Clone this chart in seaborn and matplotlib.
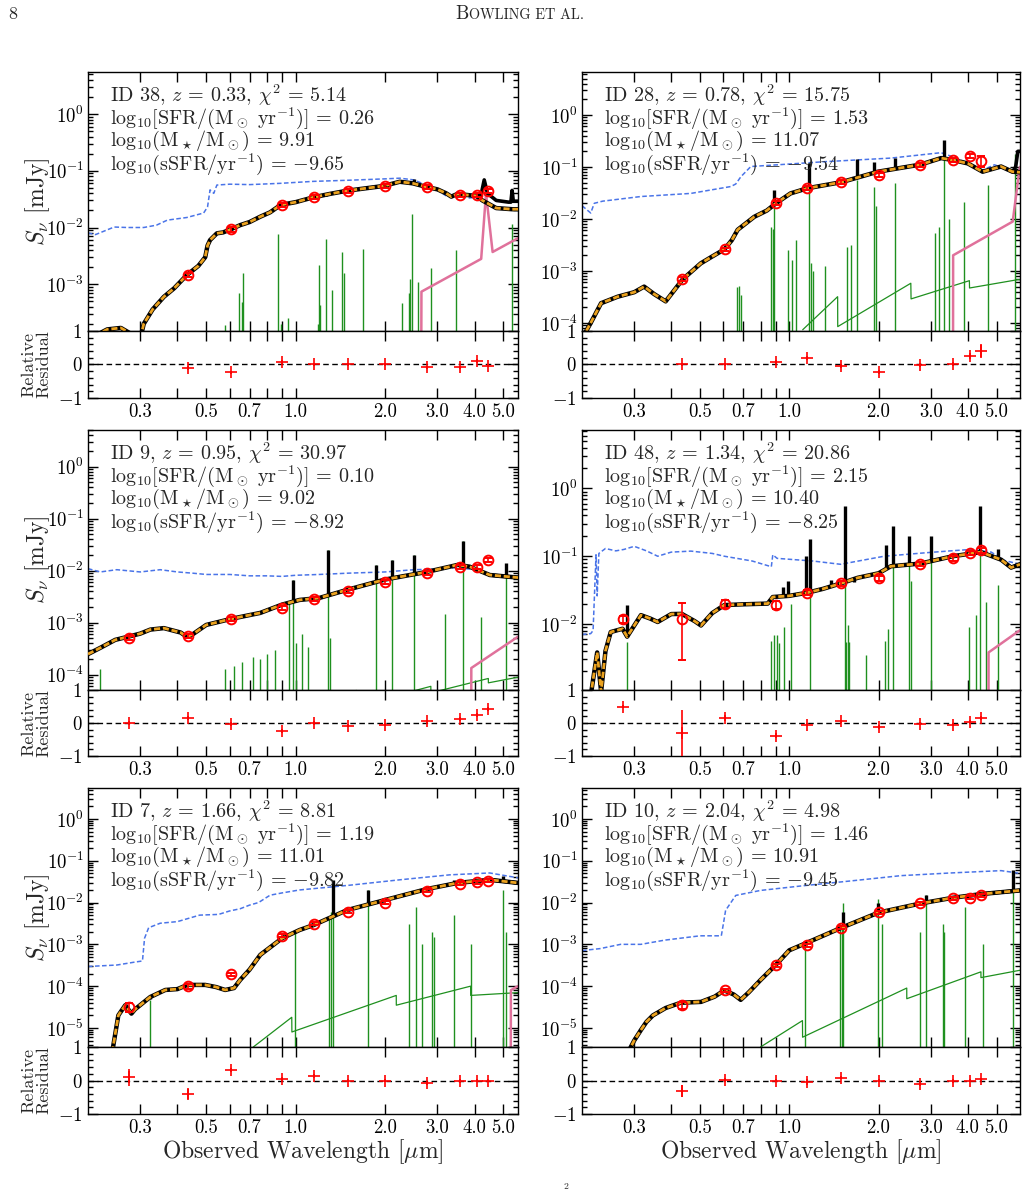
import numpy as np
import matplotlib
matplotlib.use("Agg")
import matplotlib.pyplot as plt
import seaborn as sns
from matplotlib.ticker import FixedLocator, FixedFormatter, LogLocator, MultipleLocator, NullLocator, NullFormatter

nan = np.nan

# HST + JWST filter pivot wavelengths [um]
filter_wl = [0.275, 0.435, 0.606, 0.90, 1.15, 1.50, 2.00, 2.77, 3.56, 4.08, 4.44]

# ---------------- ID 38 ----------------
id38_phot = [nan, 1.45e-3, 9.3e-3, 0.0248, 0.034, 0.0445, 0.054, 0.052, 0.037, 0.037, 0.0437]
id38_err = [nan, 1.2e-4, 8e-4, 2e-3, 2.7e-3, 3.5e-3, 4.3e-3, 4.2e-3, 3e-3, 3e-3, 3.5e-3]
id38_res = [nan, -0.10, -0.23, 0.06, 0.0, 0.0, 0.0, -0.08, -0.08, 0.10, -0.03]
id38_res_err = [nan, 0.05, 0.05, 0.06, 0.04, 0.04, 0.04, 0.05, 0.05, 0.06, 0.05]
id38_model_wl = [0.200, 0.215, 0.232, 0.258, 0.275, 0.290, 0.300, 0.308, 0.33, 0.36, 0.39, 0.43, 0.47, 0.496,
                 0.505, 0.515, 0.543, 0.57, 0.605, 0.65, 0.70, 0.76, 0.82, 0.89, 1.0, 1.146, 1.30, 1.49, 1.98,
                 2.24, 2.48, 2.75, 3.0, 3.21, 3.34, 3.5, 4.05, 4.25, 4.73, 5.35, 5.6]
id38_model_fx = [1.0e-4, 1.3e-4, 1.6e-4, 1.7e-4, 1.4e-4, 1.0e-4, 1.1e-4, 2.0e-4, 3.6e-4, 6.0e-4, 8.5e-4,
                 1.45e-3, 2.1e-3, 3.0e-3, 4.8e-3, 6.0e-3, 7.9e-3, 8.2e-3, 9.3e-3, 1.1e-2, 1.25e-2, 1.55e-2,
                 1.85e-2, 2.5e-2, 2.8e-2, 3.4e-2, 3.9e-2, 4.45e-2, 5.4e-2, 6.4e-2, 6.0e-2, 5.2e-2, 4.7e-2,
                 4.0e-2, 3.5e-2, 3.9e-2, 3.6e-2, 3.0e-2, 2.2e-2, 2.1e-2, 2.1e-2]
id38_tail_wl = [4.05, 4.2, 4.31, 4.42, 4.73, 5.2, 5.3, 5.35, 5.4, 5.6]
id38_tail_fx = [0.037, 0.036, 0.069, 0.040, 0.030, 0.028, 0.028, 0.045, 0.029, 0.029]
id38_spike_wl = [1.268, 2.494]
id38_spike_top = [0.036, 0.072]
id38_blue_wl = [0.200, 0.212, 0.245, 0.27, 0.308, 0.34, 0.37, 0.43, 0.49, 0.505, 0.515, 0.53, 0.543, 0.6,
                0.7, 0.886, 1.146, 1.5, 2.0, 2.24, 2.5, 2.75, 3.0, 3.21, 3.5, 3.8, 4.05, 4.4, 4.73, 5.6]
id38_blue_fx = [8e-3, 7.5e-3, 1.02e-2, 1.0e-2, 1.0e-2, 1.1e-2, 1.35e-2, 1.5e-2, 1.8e-2, 2.3e-2, 4.6e-2,
                4.0e-2, 5.6e-2, 5.8e-2, 5.7e-2, 6.0e-2, 6.5e-2, 6.8e-2, 7.2e-2, 7.4e-2, 6.9e-2, 5.6e-2,
                4.6e-2, 3.6e-2, 3.9e-2, 3.3e-2, 3.4e-2, 2.9e-2, 2.2e-2, 2.1e-2]
id38_green_wl = [0.576, 0.645, 0.66, 0.667, 0.872, 0.89, 0.944, 1.19, 1.2, 1.21, 1.26, 1.33, 1.43, 1.45,
                 1.69, 2.28, 2.4, 2.43, 2.47, 2.58, 2.86, 3.47, 5.34]
id38_green_top = [1.9e-4, 7.1e-4, 4.9e-4, 1.55e-3, 7.6e-3, 2.0e-4, 2.5e-4, 2.0e-4, 2.2e-3, 4.3e-4, 6.3e-3,
                  7.9e-4, 3.7e-3, 1.6e-3, 4.1e-3, 4.7e-4, 7.1e-4, 1.26e-3, 0.0174, 1.1e-3, 1.9e-3, 4.0e-3,
                  0.0115]
id38_neb_wl = [0.2, 0.3]
id38_neb_fx = [1e-7, 1e-7]
id38_dust_wl = [2.64, 2.65, 4.21, 4.37, 4.6, 5.6]
id38_dust_fx = [1e-6, 7.4e-4, 2.8e-3, 0.040, 3.7e-3, 6.5e-3]

# ---------------- ID 28 ----------------
id28_phot = [nan, 6.9e-4, 2.6e-3, 0.020, 0.039, 0.051, 0.070, 0.111, 0.136, 0.163, 0.132]
id28_err = [nan, 6e-5, 2.2e-4, 1.7e-3, 3.3e-3, 4.3e-3, 5.9e-3, 9.4e-3, 0.0115, 0.0138, 0.03]
id28_res = [nan, 0.0, 0.0, 0.08, 0.18, -0.05, -0.22, -0.02, 0.02, 0.25, 0.40]
id28_res_err = [nan, 0.05, 0.05, 0.06, 0.06, 0.05, 0.06, 0.05, 0.06, 0.08, 0.2]
id28_model_wl = [0.200, 0.214, 0.232, 0.264, 0.30, 0.324, 0.35, 0.383, 0.41, 0.437, 0.503, 0.55, 0.604, 0.64,
                 0.67, 0.762, 0.84, 0.902, 1.01, 1.153, 1.5, 1.99, 2.77, 3.25, 3.56, 4.0, 4.49, 5.18, 5.66, 6.0]
id28_model_fx = [5e-5, 1.0e-4, 2.4e-4, 3.2e-4, 3.9e-4, 5.0e-4, 3.6e-4, 2.6e-4, 4.3e-4, 6.9e-4, 1.4e-3,
                 1.9e-3, 2.6e-3, 3.9e-3, 6.2e-3, 1.1e-2, 1.45e-2, 2.0e-2, 3.1e-2, 3.9e-2, 5.1e-2, 8.1e-2,
                 0.111, 0.148, 0.136, 0.117, 0.081, 0.102, 0.081, 0.079]
id28_tail_wl = [5.66, 5.8, 5.9, 6.0]
id28_tail_fx = [0.081, 0.1, 0.2, 0.2]
id28_spike_wl = [0.891, 1.168, 1.697, 1.93, 2.28, 3.338]
id28_spike_top = [0.036, 0.118, 0.14, 0.126, 0.148, 0.33]
id28_blue_wl = [0.200, 0.214, 0.22, 0.235, 0.316, 0.466, 0.635, 0.66, 0.687, 0.742, 0.913, 1.31, 2.2,
                3.25, 3.7, 4.49, 4.92, 5.9, 6.0]
id28_blue_fx = [0.018, 0.013, 0.020, 0.022, 0.027, 0.031, 0.042, 0.047, 0.065, 0.102, 0.110, 0.126, 0.148,
                0.188, 0.145, 0.087, 0.110, 0.076, 0.076]
id28_green_wl = [0.665, 0.678, 0.69, 0.868, 0.882, 0.891, 0.99, 1.02, 1.05, 1.168, 1.18, 1.20, 1.32, 1.57,
                 1.61, 1.697, 1.93, 1.96, 2.28, 3.09, 3.20, 3.338, 3.45, 3.87, 4.67, 5.77]
id28_green_top = [5.0e-4, 5.2e-4, 3.5e-4, 7.1e-3, 6.3e-3, 0.0214, 2.5e-3, 1.6e-3, 4.0e-3, 0.117, 1.4e-3,
                  1.0e-3, 1.26e-3, 2.95e-3, 3.2e-3, 0.056, 0.042, 0.0178, 0.049, 5.4e-3, 7.1e-3, 0.20, 0.01,
                  0.0214, 0.045, 0.18]
id28_neb_wl = [1.11, 1.456, 1.457, 2.57, 2.575, 4.05, 4.055, 5.9, 6.0]
id28_neb_fx = [7.4e-5, 3.2e-4, 8.5e-5, 5.8e-4, 2.9e-4, 6.5e-4, 4.7e-4, 6.8e-4, 6.8e-4]
id28_dust_wl = [3.565, 3.57, 5.67, 5.97, 6.0]
id28_dust_fx = [1e-6, 2.0e-3, 8.9e-3, 0.087, 0.1]

# ---------------- ID 9 ----------------
id9_phot = [5.1e-4, 5.6e-4, 1.2e-3, 1.95e-3, 2.9e-3, 4.0e-3, 6.2e-3, 9.1e-3, 1.2e-2, 1.2e-2, 1.62e-2]
id9_err = [4.5e-5, 5e-5, 1e-4, 1.7e-4, 2.5e-4, 3.4e-4, 5.3e-4, 7.7e-4, 1e-3, 1e-3, 1.4e-3]
id9_res = [0.0, 0.15, -0.03, -0.25, 0.0, -0.08, -0.05, 0.05, 0.12, 0.25, 0.42]
id9_res_err = [0.06, 0.07, 0.05, 0.06, 0.05, 0.05, 0.05, 0.05, 0.05, 0.06, 0.06]
id9_model_wl = [0.200, 0.22, 0.247, 0.273, 0.30, 0.324, 0.36, 0.41, 0.43, 0.45, 0.5, 0.61, 0.76, 0.9, 1.03,
                1.2, 1.49, 2.0, 2.76, 3.51, 3.85, 4.5, 5.6]
id9_model_fx = [2.5e-4, 3.3e-4, 4.7e-4, 5.4e-4, 6.2e-4, 7.4e-4, 7.9e-4, 6.5e-4, 5.4e-4, 6.0e-4, 9.1e-4,
                1.2e-3, 1.55e-3, 2.24e-3, 2.75e-3, 3.0e-3, 4.3e-3, 6.8e-3, 9.5e-3, 1.3e-2, 1.2e-2, 8.3e-3,
                7.4e-3]
id9_tail_wl = [4.5, 5.6]
id9_tail_fx = [8.3e-3, 7.4e-3]
id9_spike_wl = [0.976, 1.28, 1.86, 2.11, 2.5, 3.66, 5.12]
id9_spike_top = [6.7e-3, 0.025, 0.013, 0.016, 0.02, 0.038, 0.014]
id9_blue_wl = [0.2, 0.22, 0.25, 0.3, 0.35, 0.4, 0.45, 0.5, 0.6, 0.7, 0.8, 0.9, 1.0, 1.2, 1.5, 2.0, 2.5, 3.0,
               3.5, 4.0, 4.5, 5.0, 5.6]
id9_blue_fx = [0.011, 0.0095, 0.0105, 0.0095, 0.0105, 0.0095, 0.009, 0.0085, 0.0085, 0.008, 0.008, 0.0078,
               0.0082, 0.0085, 0.009, 0.0095, 0.0105, 0.0108, 0.0115, 0.0105, 0.0085, 0.0080, 0.0075]
id9_green_wl = [0.22, 0.58, 0.62, 0.66, 0.72, 0.76, 0.8, 0.85, 0.948, 0.976, 1.0, 1.05, 1.1, 1.28, 1.3,
                1.86, 2.11, 2.5, 3.17, 3.66, 4.22, 5.12]
id9_green_top = [1.3e-4, 1.3e-4, 1.5e-4, 1.8e-4, 2.2e-4, 2.0e-4, 2.5e-4, 3e-4, 2.5e-3, 6.7e-3, 4e-4, 6e-4,
                 3.5e-4, 0.025, 5e-4, 0.013, 0.016, 0.02, 1.5e-3, 0.038, 1.3e-3, 0.0085]
id9_neb_wl = [1.2, 1.6, 1.601, 2.85, 2.851, 4.45, 4.451, 5.6]
id9_neb_fx = [3e-5, 5e-5, 2.5e-5, 6e-5, 4.5e-5, 8.5e-5, 7e-5, 9e-5]
id9_dust_wl = [3.895, 3.9, 5.6]
id9_dust_fx = [1e-6, 1.35e-4, 5.4e-4]

# ---------------- ID 48 ----------------
id48_phot = [0.0118, 0.0118, 0.020, 0.019, 0.029, 0.040, 0.047, 0.077, 0.094, 0.112, 0.123]
id48_err = [1.5e-3, 8.9e-3, 2.5e-3, 2.6e-3, 2.4e-3, 3.3e-3, 3.9e-3, 6.4e-3, 7.8e-3, 9.3e-3, 1.0e-2]
id48_res = [0.50, -0.30, 0.15, -0.38, -0.05, 0.05, -0.12, -0.02, -0.05, 0.03, 0.15]
id48_res_err = [0.06, 0.7, 0.08, 0.08, 0.05, 0.05, 0.05, 0.05, 0.05, 0.05, 0.06]
id48_model_wl = [0.20, 0.215, 0.225, 0.232, 0.24, 0.25, 0.274, 0.284, 0.316, 0.34, 0.36, 0.40, 0.434, 0.48,
                 0.504, 0.55, 0.604, 0.70, 0.846, 0.88, 1.0, 1.153, 1.3, 1.5, 1.70, 2.0, 2.2, 2.77, 3.56,
                 4.43, 5.18, 5.6, 6.0]
id48_model_fx = [5e-4, 1e-3, 3.8e-3, 1.0e-3, 4.0e-3, 7.6e-3, 8.5e-3, 6.5e-3, 1.35e-2, 1.2e-2, 1.07e-2,
                 1.4e-2, 1.41e-2, 1.1e-2, 9.5e-3, 1.45e-2, 1.9e-2, 1.95e-2, 2.0e-2, 2.5e-2, 2.6e-2, 2.9e-2,
                 3.3e-2, 4.0e-2, 4.8e-2, 5.6e-2, 7.1e-2, 7.8e-2, 1.0e-1, 1.15e-1, 8.9e-2, 6.8e-2, 7.6e-2]
id48_tail_wl = [5.6, 6.0]
id48_tail_fx = [6.8e-2, 7.6e-2]
id48_spike_wl = [0.284, 0.954, 0.99, 1.138, 1.172, 1.38, 1.536, 1.65, 2.12, 2.233, 2.54, 3.0, 4.39, 5.07]
id48_spike_top = [0.019, 0.035, 0.043, 0.1, 0.178, 0.045, 0.56, 0.042, 0.148, 0.28, 0.2, 0.2, 0.56, 0.13]
id48_blue_wl = [0.20, 0.214, 0.218, 0.223, 0.225, 0.228, 0.24, 0.26, 0.277, 0.30, 0.33, 0.36, 0.40, 0.466,
                0.55, 0.604, 0.75, 0.87, 0.88, 0.91, 1.2, 1.49, 2.09, 2.85, 3.5, 4.1, 4.8, 5.3, 6.0]
id48_blue_fx = [7e-3, 7.2e-3, 8e-3, 0.105, 0.026, 0.11, 0.13, 0.12, 0.126, 0.14, 0.12, 0.10, 0.115, 0.119,
                0.11, 0.10, 0.085, 0.07, 0.105, 0.093, 0.085, 0.076, 0.1, 0.112, 0.12, 0.126, 0.115, 0.087,
                0.076]
id48_green_wl = [0.284, 0.868, 0.89, 0.906, 0.925, 0.957, 1.013, 1.172, 1.536, 1.553, 1.574, 1.594, 1.814,
                 2.10, 2.147, 2.233, 2.54, 2.574, 3.0, 4.05, 4.26, 4.39, 4.6, 5.07]
id48_green_top = [5.4e-3, 5.7e-3, 6.8e-3, 6.8e-3, 5.2e-3, 9.1e-3, 0.02, 0.14, 0.53, 5.4e-3, 9.5e-3, 5.4e-3,
                  3.5e-3, 5.7e-3, 8.5e-3, 0.235, 0.079, 0.043, 0.112, 9.1e-3, 0.0135, 0.53, 0.021, 0.038]
id48_neb_wl = [0.2, 0.3]
id48_neb_fx = [1e-7, 1e-7]
id48_dust_wl = [4.695, 4.7, 6.0]
id48_dust_fx = [1e-6, 3.8e-3, 8.1e-3]

# ---------------- ID 7 ----------------
id7_phot = [3.2e-5, 1.0e-4, 1.9e-4, 1.6e-3, 3.1e-3, 6.0e-3, 1.0e-2, 1.9e-2, 2.8e-2, 3.1e-2, 3.3e-2]
id7_err = [8e-6, 1.5e-5, 1.8e-5, 1.3e-4, 2.6e-4, 5e-4, 8.5e-4, 1.6e-3, 2.4e-3, 2.6e-3, 2.8e-3]
id7_res = [0.10, -0.40, 0.30, 0.05, 0.12, 0.0, 0.0, -0.08, -0.02, 0.0, 0.0]
id7_res_err = [0.25, 0.15, 0.06, 0.06, 0.06, 0.04, 0.04, 0.05, 0.05, 0.05, 0.05]
id7_model_wl = [0.235, 0.242, 0.253, 0.267, 0.28, 0.288, 0.324, 0.364, 0.40, 0.432, 0.496, 0.54, 0.579, 0.62,
                0.65, 0.70, 0.76, 0.9, 1.03, 1.15, 1.49, 2.0, 2.76, 3.51, 4.5, 5.6]
id7_model_fx = [1e-6, 3e-6, 2e-5, 3.5e-5, 2.2e-5, 2.8e-5, 5.5e-5, 8.1e-5, 8.5e-5, 1.07e-4, 1.07e-4, 9.5e-5,
                8.1e-5, 9e-5, 1.4e-4, 2.5e-4, 5.6e-4, 1.4e-3, 2.2e-3, 2.9e-3, 6.6e-3, 1.15e-2, 2.1e-2,
                2.95e-2, 3.5e-2, 2.95e-2]
id7_tail_wl = [4.5, 5.6]
id7_tail_fx = [3.5e-2, 2.95e-2]
id7_spike_wl = [0.324, 1.332, 1.746, 2.536, 3.41, 4.99]
id7_spike_top = [5e-5, 0.035, 0.02, 0.018, 0.035, 0.044]
id7_blue_wl = [0.20, 0.25, 0.29, 0.305, 0.31, 0.32, 0.35, 0.4, 0.475, 0.55, 0.6, 0.65, 0.7, 0.75, 0.82, 0.9,
               1.03, 1.52, 2.24, 3.3, 4.5, 5.6]
id7_blue_fx = [2.95e-4, 3.2e-4, 3.8e-4, 4.0e-4, 1.4e-3, 2.5e-3, 3.2e-3, 3.5e-3, 5.0e-3, 5.2e-3, 6.3e-3,
               7.1e-3, 8.7e-3, 0.01, 0.015, 0.017, 0.02, 0.026, 0.035, 0.046, 0.051, 0.039]
id7_green_wl = [0.324, 0.991, 1.293, 1.319, 1.332, 1.746, 2.41, 2.536, 2.67, 2.88, 2.91, 3.41, 3.9, 4.99, 5.1]
id7_green_top = [4.7e-5, 2e-3, 4e-3, 6e-3, 0.03, 0.02, 3e-3, 8e-3, 1e-3, 2e-3, 1.5e-3, 5e-3, 1e-3, 0.02, 2e-3]
id7_neb_wl = [0.72, 0.97, 0.971, 2.18, 2.181, 3.88, 3.881, 5.6]
id7_neb_fx = [3.5e-6, 1.8e-5, 8e-6, 6e-5, 3.5e-5, 1.0e-4, 6e-5, 7e-5]
id7_dust_wl = [5.29, 5.3, 5.6]
id7_dust_fx = [1e-7, 8e-5, 1.0e-4]

# ---------------- ID 10 ----------------
id10_phot = [nan, 3.5e-5, 8e-5, 3.2e-4, 9.5e-4, 2.5e-3, 5.8e-3, 9.5e-3, 0.0126, 0.013, 0.0148]
id10_err = [nan, 6e-6, 6.5e-6, 2.7e-5, 8e-5, 2.1e-4, 4.8e-4, 8e-4, 1.05e-3, 1.1e-3, 1.25e-3]
id10_res = [nan, -0.30, 0.02, 0.0, -0.05, 0.08, 0.0, -0.10, -0.02, 0.0, 0.03]
id10_res_err = [nan, 0.18, 0.05, 0.05, 0.08, 0.05, 0.05, 0.05, 0.05, 0.05, 0.05]
id10_model_wl = [0.285, 0.30, 0.316, 0.33, 0.347, 0.383, 0.43, 0.504, 0.56, 0.604, 0.65, 0.686, 0.73, 0.8,
                 0.9, 1.0, 1.15, 1.5, 2.0, 2.77, 3.56, 4.46, 6.0]
id10_model_fx = [2.5e-6, 5e-6, 8.9e-6, 1.4e-5, 2.0e-5, 3.0e-5, 4.0e-5, 4.2e-5, 5.6e-5, 7.9e-5, 6.3e-5,
                 4.7e-5, 7.1e-5, 1.4e-4, 3.2e-4, 7.2e-4, 1.1e-3, 2.5e-3, 5.75e-3, 9.5e-3, 1.3e-2, 1.6e-2,
                 1.95e-2]
id10_tail_wl = [4.46, 6.0]
id10_tail_fx = [1.6e-2, 1.95e-2]
id10_spike_wl = [1.522, 1.995, 2.898, 3.9, 5.70]
id10_spike_top = [6e-3, 0.01, 0.015, 0.016, 0.06]
id10_blue_wl = [0.2, 0.23, 0.27, 0.316, 0.38, 0.5, 0.59, 0.6, 0.61, 0.66, 0.8, 1.1, 1.62, 2.38, 3.5, 5.18, 6.0]
id10_blue_fx = [7.1e-4, 7.9e-4, 1.0e-3, 1.0e-3, 1.26e-3, 1.6e-3, 1.6e-3, 3.2e-3, 6.5e-3, 0.0148, 0.0195,
                0.025, 0.033, 0.044, 0.051, 0.058, 0.05]
id10_green_wl = [1.133, 1.478, 1.507, 1.522, 1.995, 2.05, 2.76, 2.898, 3.29, 3.33, 3.9, 4.5, 5.70]
id10_green_top = [1e-3, 3e-3, 2.5e-3, 0.01, 0.012, 3e-3, 2e-3, 0.015, 3e-3, 2e-3, 8e-3, 1e-3, 0.03]
id10_neb_wl = [0.8, 1.108, 1.109, 2.49, 2.491, 4.43, 4.431, 6.0]
id10_neb_fx = [3.5e-6, 1.5e-5, 6e-6, 9e-5, 5e-5, 2.2e-4, 1.6e-4, 2.4e-4]
id10_dust_wl = [5.99, 6.0]
id10_dust_fx = [1e-7, 1e-7]

# text annotations
labels = [
    ("ID 38", "0.33", "5.14", "0.26", "9.91", "-9.65"),
    ("ID 28", "0.78", "15.75", "1.53", "11.07", "-9.54"),
    ("ID 9", "0.95", "30.97", "0.10", "9.02", "-8.92"),
    ("ID 48", "1.34", "20.86", "2.15", "10.40", "-8.25"),
    ("ID 7", "1.66", "8.81", "1.19", "11.01", "-9.82"),
    ("ID 10", "2.04", "4.98", "1.46", "10.91", "-9.45"),
]
ylims = [(1.5e-4, 5.5), (7e-5, 6.7), (5.1e-5, 5.1), (1.06e-3, 7.3), (3.5e-6, 5.5), (3.5e-6, 5.5)]

xtick_vals = [0.3, 0.4, 0.5, 0.6, 0.7, 0.8, 0.9, 1.0, 2.0, 3.0, 4.0, 5.0]
xtick_text = ["0.3", "", "0.5", "", "0.7", "", "", "1.0", "2.0", "3.0", "4.0", "5.0"]

sns.set_style("ticks")
plt.rcParams["font.family"] = ["serif"]
plt.rcParams["font.serif"] = ["cmr10", "DejaVu Serif"]
plt.rcParams["mathtext.fontset"] = "cm"
plt.rcParams["axes.formatter.use_mathtext"] = True
plt.rcParams["axes.unicode_minus"] = False

W, H = 1027, 1194
fig = plt.figure(figsize=(W / 100, H / 100), dpi=100)

col_x = [(88, 430, 0.2, 5.6), (582, 438, 0.2, 6.0)]
row_y = [(72, 331, 398), (430, 690, 756), (788, 1047, 1114)]

panels = [
    ("id38", 0, 0), ("id28", 0, 1), ("id9", 1, 0), ("id48", 1, 1), ("id7", 2, 0), ("id10", 2, 1),
]

c_orange = "#eba21f"
c_blue = "#4a74e8"
c_green = "#1f901f"
c_pink = "#e0719b"


def style_ticks(ax):
    ax.tick_params(which="both", direction="in", top=True, right=True, width=1.0, colors="k")
    ax.tick_params(which="major", length=7)
    ax.tick_params(which="minor", length=3.5)
    for s in ax.spines.values():
        s.set_linewidth(1.0)
        s.set_color("k")


def num(v):
    # numbers as math so the minus sign is a proper unary minus
    return "$%s$" % v


g = globals()
for i, (key, r, c) in enumerate(panels):
    x0, w, xmin, xmax = col_x[c]
    top, mid, bot = row_y[r]
    ax = fig.add_axes([x0 / W, 1 - mid / H, w / W, (mid - top) / H])
    axr = fig.add_axes([x0 / W, 1 - bot / H, w / W, (bot - mid) / H])

    mwl = np.array(g[key + "_model_wl"])
    mfx = np.array(g[key + "_model_fx"])

    # unattenuated stellar
    sns.lineplot(x=g[key + "_blue_wl"], y=g[key + "_blue_fx"], ax=ax, color=c_blue, lw=1.1,
                 linestyle="--", estimator=None, sort=False, zorder=2)
    ax.lines[-1].set_dashes([3.0, 1.6])
    # nebular
    ax.vlines(g[key + "_green_wl"], 1e-9, g[key + "_green_top"], color=c_green, lw=1.0, zorder=2)
    sns.lineplot(x=g[key + "_neb_wl"], y=g[key + "_neb_fx"], ax=ax, color=c_green, lw=0.9,
                 estimator=None, sort=False, zorder=2)
    # dust
    sns.lineplot(x=g[key + "_dust_wl"], y=g[key + "_dust_fx"], ax=ax, color=c_pink, lw=1.8,
                 estimator=None, sort=False, zorder=2)
    # total model
    sns.lineplot(x=mwl, y=mfx, ax=ax, color="k", lw=3.2, estimator=None, sort=False, zorder=3)
    sns.lineplot(x=g[key + "_tail_wl"], y=g[key + "_tail_fx"], ax=ax, color="k", lw=2.6,
                 estimator=None, sort=False, zorder=3)
    swl = np.array(g[key + "_spike_wl"])
    base = 10 ** np.interp(np.log10(swl), np.log10(mwl), np.log10(mfx))
    ax.vlines(swl, base, g[key + "_spike_top"], color="k", lw=2.4, zorder=3)
    # attenuated stellar
    sns.lineplot(x=mwl, y=mfx, ax=ax, color=c_orange, lw=2.0, linestyle="--",
                 estimator=None, sort=False, zorder=4)
    ax.lines[-1].set_dashes([2.2, 1.0])
    # photometry
    ax.errorbar(filter_wl, g[key + "_phot"], yerr=g[key + "_err"], fmt="o", ms=7, mfc="none", mec="red",
                mew=1.4, ecolor="red", elinewidth=1.2, capsize=3.2, capthick=1.2, zorder=6)

    ax.set_xscale("log")
    ax.set_yscale("log")
    ax.set_xlim(xmin, xmax)
    ax.set_ylim(*ylims[i])
    ax.yaxis.set_major_locator(LogLocator(base=10, numticks=20))
    ax.yaxis.set_minor_locator(LogLocator(base=10, subs=np.arange(2, 10), numticks=200))
    ax.yaxis.set_minor_formatter(NullFormatter())
    ax.xaxis.set_major_locator(FixedLocator(xtick_vals))
    ax.xaxis.set_minor_locator(NullLocator())
    ax.xaxis.set_major_formatter(NullFormatter())
    style_ticks(ax)
    ax.tick_params(axis="y", labelsize=13.5, pad=3)
    ax.set_xlabel("")
    ax.set_ylabel("")

    lab = labels[i]
    tx = 0.05
    kw = dict(transform=ax.transAxes, fontsize=14.5, va="center", ha="left")
    ax.text(tx, 0.911, r"%s, $z$ = %s, $\chi^2$ = %s" % (lab[0], lab[1], lab[2]), **kw)
    ax.text(tx, 0.822, r"$\mathrm{log}_{10}[\mathrm{SFR}/(\mathrm{M}_\odot\ \mathrm{yr}^{-1})]$ = " + num(lab[3]),
            **kw)
    ax.text(tx, 0.733, r"$\mathrm{log}_{10}(\mathrm{M}_\star/\mathrm{M}_\odot)$ = " + num(lab[4]), **kw)
    ax.text(tx, 0.644, r"$\mathrm{log}_{10}(\mathrm{sSFR}/\mathrm{yr}^{-1})$ = " + num(lab[5]), **kw)

    # residual panel
    axr.axhline(0, color="k", lw=1.0, ls="--", dashes=(4, 2.5), zorder=1)
    axr.errorbar(filter_wl, g[key + "_res"], yerr=g[key + "_res_err"], fmt="+", ms=8, mew=1.2,
                 color="red", elinewidth=1.2, zorder=5)
    axr.set_xscale("log")
    axr.set_xlim(xmin, xmax)
    axr.set_ylim(-1, 1)
    axr.xaxis.set_major_locator(FixedLocator(xtick_vals))
    axr.xaxis.set_major_formatter(FixedFormatter(xtick_text))
    axr.xaxis.set_minor_locator(NullLocator())
    axr.yaxis.set_major_locator(FixedLocator([-1, 0, 1]))
    axr.yaxis.set_major_formatter(FixedFormatter([r"$-1$", r"$0$", r"$1$"]))
    axr.yaxis.set_minor_locator(MultipleLocator(0.2))
    style_ticks(axr)
    axr.tick_params(axis="both", labelsize=13.5, pad=4)

    if c == 0:
        fig.text(38 / W, 1 - (top + mid) / 2 / H, r"$S_\nu$ [mJy]", rotation=90, ha="center", va="center",
                 fontsize=17)
        fig.text(36 / W, 1 - (mid + bot) / 2 / H, "Relative\nResidual", rotation=90, ha="center",
                 va="center", fontsize=13, linespacing=1.0)
    if r == 2:
        fig.text((x0 + w / 2) / W, 1 - 1152 / H, r"Observed Wavelength [$\mu$m]", ha="center",
                 va="center", fontsize=17)

# page header
fig.text(8 / W, 1 - 19 / H, "8", fontsize=13, ha="left", va="baseline")
fig.text(455 / W, 1 - 19 / H, "B", fontsize=13.5, ha="left", va="baseline")
fig.text(469 / W, 1 - 19 / H, "OWLING ET AL.", fontsize=10.3, ha="left", va="baseline")
fig.text(563 / W, 1 - 1187 / H, "2", fontsize=7, ha="left", va="center")

fig.savefig("out.png", dpi=100)
